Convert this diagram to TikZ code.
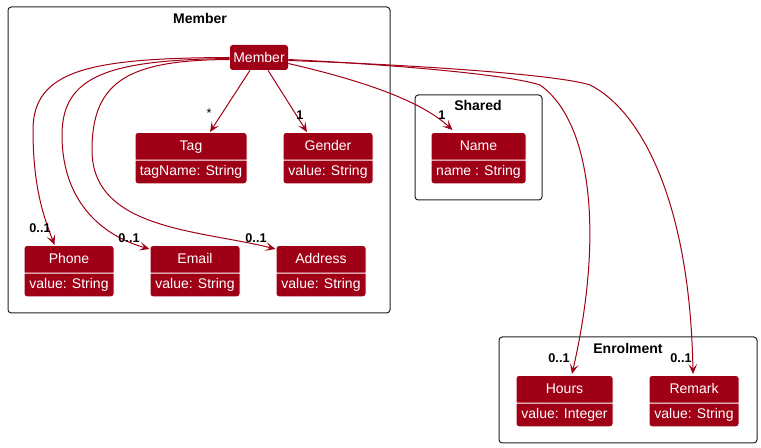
\documentclass[tikz,border=0pt]{standalone}
\usepackage{fontspec}
\setmainfont{Liberation Sans}
\usetikzlibrary{arrows.meta, calc, shapes.multipart}
\definecolor{umlred}{HTML}{A00016}
\definecolor{pkgline}{HTML}{222222}

\begin{document}
\begin{tikzpicture}[
  x=0.75pt, y=-0.75pt,
  >={Stealth[length=7.5pt, width=6.5pt, inset=3.5pt]},
  pkg/.style={draw=pkgline, line width=0.75pt, rounded corners=2.5pt},
  pkgtitle/.style={font=\fontsize{10.5}{12}\selectfont\bfseries},
  cls/.style={rectangle split, rectangle split parts=2, draw=white,
    line width=0.75pt, fill=umlred, text=white, rounded corners=2pt,
    anchor=north, inner xsep=2pt, inner ysep=3.6pt,
    text height=9.8pt, text depth=3pt, font=\fontsize{10.5}{12}\selectfont},
  assoc/.style={->, umlred, line width=0.75pt},
  mult/.style={font=\fontsize{9.5}{11}\selectfont\bfseries},
]

\useasboundingbox (0,0) rectangle (761,448);

% Packages
\draw[pkg] (8,7) rectangle (390,313);
\node[pkgtitle] (memberpkg) at (200,19) {Member};
\draw[pkg] (415,95) rectangle (542,200);
\node[pkgtitle] (sharedpkg) at (478,106) {Shared};
\draw[pkg] (499,337) rectangle (757,443);
\node[pkgtitle] (enrolpkg) at (628,349) {Enrolment};

% === Classes ===
\node[fill=umlred, text=white, rounded corners=2pt, minimum width=43.5pt,
  minimum height=18.75pt, inner sep=0pt, font=\fontsize{10.5}{12}\selectfont]
  (member) at (259,57.5) {Member};

\node[cls, minimum width=84pt] (tag) at (191,132) {Tag \nodepart{two} tagName: String};
\node[cls, minimum width=67.5pt] (gender) at (328,132) {Gender \nodepart{two} value: String};
\node[cls, minimum width=67.5pt] (phone) at (69,245) {Phone \nodepart{two} value: String};
\node[cls, minimum width=67.5pt] (email) at (195,245) {Email \nodepart{two} value: String};
\node[cls, minimum width=67.5pt] (address) at (321,245) {Address \nodepart{two} value: String};
\node[cls, minimum width=71.25pt] (name) at (478.5,132) {Name \nodepart{two} name : String};
\node[cls, minimum width=72.75pt] (hours) at (564.5,375) {Hours \nodepart{two} value: Integer};
\node[cls, minimum width=67.5pt] (remark) at (694,375) {Remark \nodepart{two} value: String};

% === Associations ===
\draw[assoc] ($(member.south)+(-9,0)$) -- ($(tag.north)+(19,0)$);
\draw[assoc] ($(member.south)+(9,0)$) -- ($(gender.north)+(-21,0)$);

\draw[assoc] ($(member.west)+(0,0)$) .. controls (90,58) and (33,70) .. (33,130)
  .. controls (33,190) and (45,220) .. ($(phone.north west)+(31,0)$);
\draw[assoc] ($(member.west)+(0,1)$) .. controls (110,60) and (62,75) .. (62,135)
  .. controls (62,200) and (100,235) .. ($(email.north west)+(0,4)$);
\draw[assoc] ($(member.west)+(0,2)$) .. controls (130,60) and (92,80) .. (92,150)
  .. controls (92,230) and (200,230) .. ($(address.north west)+(0,4)$);

\draw[assoc] ($(member.east)+(0,6)$) .. controls (360,80) and (420,100)
  .. ($(name.north)+(-26,-2)$);
\draw[assoc] ($(member.east)+(0,2)$) .. controls (400,65) and (510,75) .. (540,85)
  .. controls (590,120) and (605,230) .. ($(hours.north)+(7.5,-1)$);
\draw[assoc] ($(member.east)+(0,3)$) .. controls (420,65) and (560,75) .. (590,85)
  .. controls (640,110) and (690,200) .. ($(remark.north)+(-1,-1)$);

% Multiplicities
\node[font=\fontsize{9.5}{11}\selectfont] (tagmult) at (209,113) {*};
\node[mult] (gendermult) at (300,115) {1};
\node[mult] (namemult) at (442,115) {1};
\node[mult] (phonemult) at (40,228) {0..1};
\node[mult] (emailmult) at (129,238) {0..1};
\node[mult] (addressmult) at (256,238) {0..1};
\node[mult] (hoursmult) at (559,358) {0..1};
\node[mult] (remarkmult) at (681,358) {0..1};

\end{tikzpicture}
\end{document}
